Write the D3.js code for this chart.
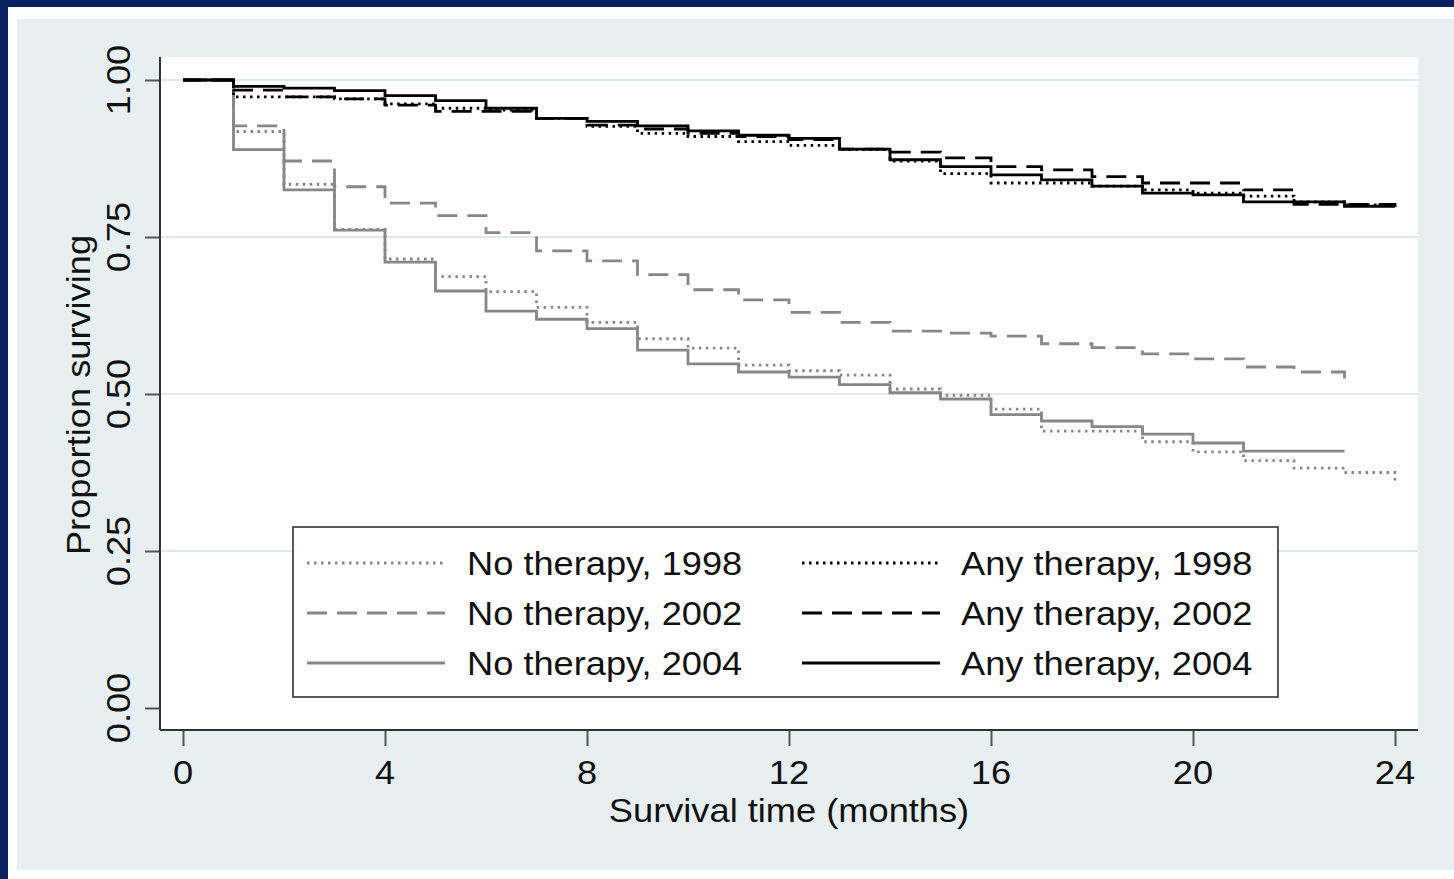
<!DOCTYPE html>
<html>
<head>
<meta charset="utf-8">
<script src="https://cdn.jsdelivr.net/npm/d3@7"></script>
<style>
  html, body { margin: 0; padding: 0; background: #0b2261; }
  svg { display: block; }
  text { font-family: "Liberation Sans", Arial, Helvetica, sans-serif; fill: #111; }
</style>
</head>
<body>
<svg id="chart" width="1454" height="879"></svg>
<script>
// Kaplan-Meier survival by month; value at index i holds from month i onward.
const months = d3.range(0, 25);

const noTherapy1998 = [1.000, 0.918, 0.834, 0.762, 0.715, 0.687, 0.663, 0.638, 0.614, 0.588,
  0.573, 0.546, 0.537, 0.530, 0.508, 0.498, 0.476, 0.441, 0.441, 0.424, 0.408, 0.394, 0.382, 0.375, 0.358];
const noTherapy2002 = [1.000, 0.927, 0.871, 0.830, 0.804, 0.784, 0.757, 0.728, 0.712, 0.690,
  0.666, 0.650, 0.630, 0.614, 0.600, 0.597, 0.592, 0.580, 0.574, 0.564, 0.556, 0.543, 0.535, 0.518];
const noTherapy2004 = [1.000, 0.889, 0.825, 0.761, 0.710, 0.664, 0.632, 0.619, 0.604, 0.570,
  0.548, 0.535, 0.527, 0.515, 0.502, 0.492, 0.467, 0.457, 0.448, 0.436, 0.422, 0.409, 0.409, 0.409];
const anyTherapy1998 = [1.000, 0.973, 0.973, 0.970, 0.962, 0.955, 0.952, 0.939, 0.926, 0.915,
  0.910, 0.902, 0.896, 0.889, 0.871, 0.851, 0.836, 0.836, 0.831, 0.825, 0.820, 0.815, 0.806, 0.801, 0.798];
const anyTherapy2002 = [1.000, 0.984, 0.973, 0.970, 0.960, 0.950, 0.950, 0.939, 0.928, 0.922,
  0.915, 0.910, 0.905, 0.890, 0.885, 0.876, 0.862, 0.857, 0.846, 0.836, 0.836, 0.825, 0.802, 0.802, 0.798];
const anyTherapy2004 = [1.000, 0.990, 0.987, 0.983, 0.975, 0.967, 0.955, 0.939, 0.934, 0.927,
  0.919, 0.912, 0.907, 0.890, 0.873, 0.862, 0.849, 0.841, 0.831, 0.820, 0.817, 0.806, 0.806, 0.799, 0.799];

const seriesNames = ["No therapy, 1998", "No therapy, 2002", "No therapy, 2004",
                     "Any therapy, 1998", "Any therapy, 2002", "Any therapy, 2004"];
const xTicks = [0, 4, 8, 12, 16, 20, 24];
const yTicks = [0, 0.25, 0.5, 0.75, 1];
const xTitle = "Survival time (months)";
const yTitle = "Proportion surviving";

const GRAY = "#878787", BLACK = "#000";
const DOT = "2.5,4.5", DASH = "20,10";
const series = [
  { name: seriesNames[0], values: noTherapy1998, color: GRAY, dash: DOT },
  { name: seriesNames[1], values: noTherapy2002, color: GRAY, dash: DASH },
  { name: seriesNames[2], values: noTherapy2004, color: GRAY, dash: null },
  { name: seriesNames[3], values: anyTherapy1998, color: BLACK, dash: DOT },
  { name: seriesNames[4], values: anyTherapy2002, color: BLACK, dash: DASH },
  { name: seriesNames[5], values: anyTherapy2004, color: BLACK, dash: null }
];

const svg = d3.select("#chart");
const W = 1454, H = 879;
const FS = 34, STRETCH = 1.066;

// Page frame: navy border, white margin, bluish graph region
svg.append("rect").attr("x", 0).attr("y", 0).attr("width", W).attr("height", H).attr("fill", "#0b2261");
svg.append("rect").attr("x", 8).attr("y", 7).attr("width", W - 8).attr("height", H - 7).attr("fill", "#ffffff");
svg.append("rect").attr("x", 17).attr("y", 19).attr("width", W - 17).attr("height", 870 - 19).attr("fill", "#e8eff1");

// Plot region
const plot = { left: 160, right: 1418, top: 57, bottom: 730 };
svg.append("rect")
  .attr("x", plot.left).attr("y", plot.top)
  .attr("width", plot.right - plot.left).attr("height", plot.bottom - plot.top)
  .attr("fill", "#ffffff");

const x = d3.scaleLinear().domain([0, 24]).range([183, 1395]);
const y = d3.scaleLinear().domain([0, 1]).range([708, 80]);

// Horizontal grid lines
svg.append("g").selectAll("line")
  .data(yTicks.filter(v => v > 0))
  .join("line")
  .attr("x1", plot.left).attr("x2", plot.right)
  .attr("y1", d => y(d)).attr("y2", d => y(d))
  .attr("stroke", "#e0eaec").attr("stroke-width", 2);

// Axes
const xAxis = svg.append("g")
  .attr("transform", `translate(0,${plot.bottom})`)
  .call(d3.axisBottom(x).tickValues(xTicks).tickSize(16).tickPadding(0).tickFormat(d3.format("d")));
xAxis.select(".domain").remove();
xAxis.selectAll(".tick line").attr("stroke", "#555").attr("stroke-width", 2);
xAxis.selectAll(".tick text").remove();

const yAxis = svg.append("g")
  .attr("transform", `translate(${plot.left},0)`)
  .call(d3.axisLeft(y).tickValues(yTicks).tickSize(15).tickFormat(d3.format(".2f")));
yAxis.select(".domain").remove();
yAxis.selectAll(".tick line").attr("stroke", "#555").attr("stroke-width", 2);
yAxis.selectAll(".tick text").remove();

svg.append("line").attr("x1", plot.left).attr("x2", plot.right)
  .attr("y1", plot.bottom).attr("y2", plot.bottom)
  .attr("stroke", "#333").attr("stroke-width", 2);
svg.append("line").attr("x1", plot.left).attr("x2", plot.left)
  .attr("y1", plot.top).attr("y2", plot.bottom)
  .attr("stroke", "#333").attr("stroke-width", 2);

// Tick labels
svg.append("g").selectAll("text")
  .data(xTicks)
  .join("text")
  .attr("transform", d => `translate(${x(d)},784) scale(${STRETCH},1)`)
  .attr("text-anchor", "middle")
  .attr("font-size", FS)
  .text(d3.format("d"));

svg.append("g").selectAll("text")
  .data(yTicks)
  .join("text")
  .attr("transform", d => `translate(130,${y(d)}) rotate(-90) scale(${STRETCH},1)`)
  .attr("text-anchor", "middle")
  .attr("font-size", FS)
  .text(d3.format(".2f"));

// Axis titles
svg.append("text")
  .attr("transform", `translate(789,822) scale(${STRETCH},1)`)
  .attr("text-anchor", "middle")
  .attr("font-size", FS)
  .text(xTitle);
svg.append("text")
  .attr("transform", `translate(90,395) rotate(-90) scale(${STRETCH},1)`)
  .attr("text-anchor", "middle")
  .attr("font-size", FS)
  .text(yTitle);

// Survival step curves
const line = d3.line()
  .x((d, i) => x(months[i]))
  .y(d => y(d))
  .curve(d3.curveStepAfter);

svg.append("g").selectAll("path")
  .data(series)
  .join("path")
  .attr("d", d => line(d.values))
  .attr("fill", "none")
  .attr("stroke", d => d.color)
  .attr("stroke-width", 2.8)
  .attr("stroke-dasharray", d => d.dash)
  .attr("stroke-linejoin", "miter");

// Legend
const legend = svg.append("g");
legend.append("rect")
  .attr("x", 293).attr("y", 527).attr("width", 1278 - 293).attr("height", 697 - 527)
  .attr("fill", "#ffffff").attr("stroke", "#333").attr("stroke-width", 1.6);

const rowY = [563, 613, 663];
const colX = [{ l0: 307, l1: 445, tx: 467 }, { l0: 802, l1: 940, tx: 961 }];
series.forEach((s, i) => {
  const col = colX[Math.floor(i / 3)];
  const ry = rowY[i % 3];
  legend.append("line")
    .attr("x1", col.l0).attr("x2", col.l1)
    .attr("y1", ry).attr("y2", ry)
    .attr("stroke", s.color).attr("stroke-width", 2.8)
    .attr("stroke-dasharray", s.dash);
  legend.append("text")
    .attr("transform", `translate(${col.tx},${ry + 12}) scale(${STRETCH},1)`)
    .attr("font-size", FS)
    .text(s.name);
});
</script>
</body>
</html>
